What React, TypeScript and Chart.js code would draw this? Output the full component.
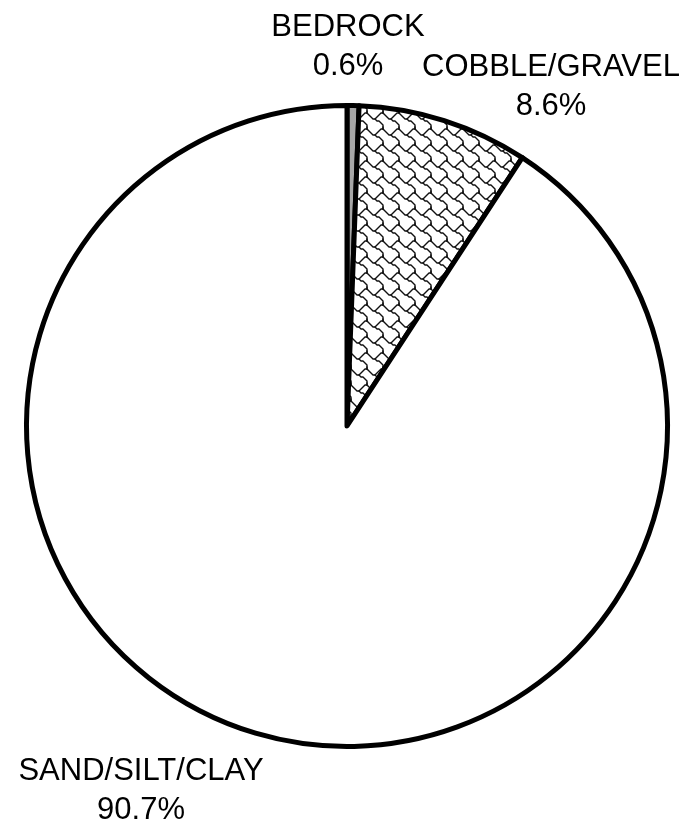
import React, { useEffect, useRef } from "react";
import { Chart, registerables } from "chart.js";

Chart.register(...registerables);

const categories = ["BEDROCK", "COBBLE/GRAVEL", "SAND/SILT/CLAY"];
const values = [0.6, 8.6, 90.7];
const valueLabels = ["0.6%", "8.6%", "90.7%"];

// label anchor offsets relative to pie centre (first-line baseline)
const labelOffsets = [
  { dx: 1, dy: -390 },
  { dx: 204, dy: -350 },
  { dx: -206, dy: 354 },
];

// shingle hatch traced through an 8x8 cell
const shingleA = [[-1, 0], [0, 1], [1, 2], [2, 3], [3, 3], [4, 4], [5, 4], [6, 5], [7, 6], [7, 7], [7, 8]];
const shingleB = [[3, 3], [4, 2], [5, 1], [6, 0], [7, 0], [7, -1]];

function makeShingle(ctx: CanvasRenderingContext2D): CanvasPattern | string {
  const scale = 2;
  const size = 8 * scale;
  const c = document.createElement("canvas");
  c.width = size;
  c.height = size;
  const g = c.getContext("2d");
  if (!g) return "#ffffff";
  g.fillStyle = "#ffffff";
  g.fillRect(0, 0, size, size);
  g.strokeStyle = "#111111";
  g.lineWidth = 1.4;
  g.lineJoin = "round";
  g.lineCap = "round";
  for (const sx of [-size, 0, size]) {
    for (const sy of [-size, 0, size]) {
      for (const path of [shingleA, shingleB]) {
        g.beginPath();
        path.forEach(([px, py], k) => {
          const X = px * scale + scale / 2 + sx;
          const Y = py * scale + scale / 2 + sy;
          if (k === 0) g.moveTo(X, Y);
          else g.lineTo(X, Y);
        });
        g.stroke();
      }
    }
  }
  return ctx.createPattern(c, "repeat") || "#ffffff";
}

const labelPlugin = {
  id: "outsideLabels",
  afterDatasetsDraw(chart: any) {
    const ctx: CanvasRenderingContext2D = chart.ctx;
    const meta = chart.getDatasetMeta(0);
    ctx.save();
    ctx.font = '31px "Liberation Sans", Arial, sans-serif';
    ctx.fillStyle = "#000000";
    ctx.textAlign = "center";
    ctx.textBaseline = "alphabetic";
    const lineH = 39;
    meta.data.forEach((arc: any, i: number) => {
      const off = labelOffsets[i];
      const x = arc.x + off.dx;
      const y = arc.y + off.dy;
      ctx.fillText(categories[i], x, y);
      ctx.fillText(valueLabels[i], x, y + lineH);
    });
    ctx.restore();
  },
};

export default function App() {
  const ref = useRef<HTMLCanvasElement | null>(null);
  useEffect(() => {
    const canvas = ref.current;
    if (!canvas) return;
    const ctx = canvas.getContext("2d")!;
    const pattern = makeShingle(ctx);
    const chart = new Chart(canvas, {
      type: "pie",
      data: {
        labels: categories,
        datasets: [
          {
            data: values,
            backgroundColor: ["#a6a6a6", pattern as any, "#ffffff"],
            borderColor: "#000000",
            borderWidth: 5,
            borderJoinStyle: "round" as any,
          },
        ],
      },
      options: {
        responsive: false,
        animation: false,
        layout: { padding: { left: 24, right: 21, top: 103, bottom: 78 } },
        plugins: {
          legend: { display: false },
          tooltip: { enabled: false },
        },
      },
      plugins: [labelPlugin],
    });
    return () => chart.destroy();
  }, []);
  return (
    <div style={{ position: "absolute", left: 0, top: 0, width: 691, height: 827, background: "#ffffff" }}>
      <canvas ref={ref} width={691} height={827} style={{ display: "block" }} />
    </div>
  );
}
